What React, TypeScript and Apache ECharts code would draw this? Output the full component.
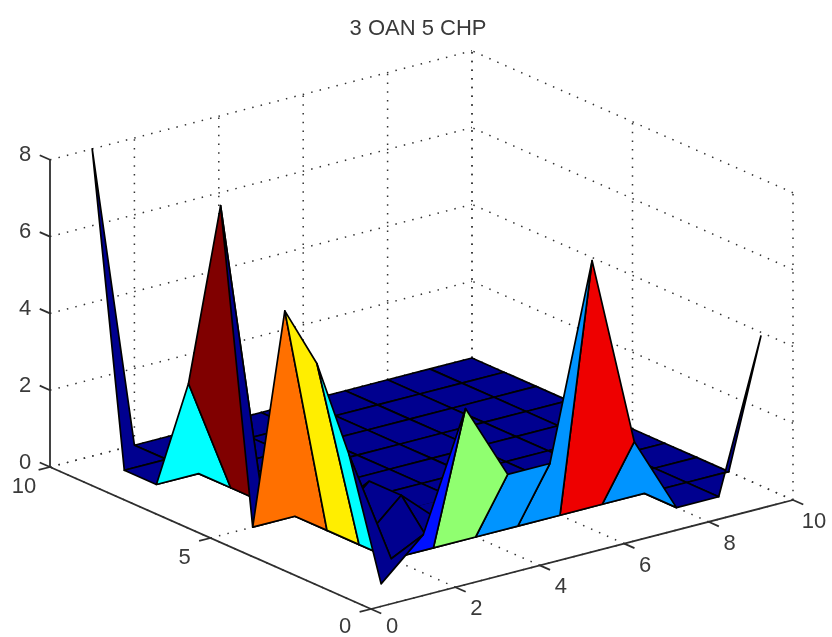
import React, { useEffect, useRef } from "react";
import * as echarts from "echarts";

const titleText = "3 OAN 5 CHP";
const xTicks = [0, 2, 4, 6, 8, 10];
const yTicks = [0, 5, 10];
const zTicks = [0, 2, 4, 6, 8];

// Z[y-1][x-1], x and y both run 1..10
const heights = [
  [0, 1, 4, 2, 2, 7, 2, 0, 0, 3.9],
  [3, 0, 0, 0, 0, 0, 0, 0, 0, 0],
  [5, 0, 1, 0, 0, 0, 0, 0, 0, 0],
  [6, 0, 1, 0, 0, 0, 0, 0, 0, 0],
  [0, 0, 0, 0, 0, 0, 0, 0, 0, 0],
  [8, 0, 0, 0, 0, 0, 0, 0, 0, 0],
  [3, 0, 0, 0, 0, 0, 0, 0, 0, 0],
  [0, 0, 0, 0, 0, 0, 0, 0, 0, 0],
  [0, 0, 0, 0, 0, 0, 0, 0, 0, 0],
  [8, 0, 0, 0, 0, 0, 0, 0, 0, 0],
];
// colour level of each face (its lowest-index corner)
const faceLevels = [
  [0, 1, 4, 2, 2, 7, 2, 0, 0],
  [3, 0, 0, 0, 0, 0, 0, 0, 0],
  [5, 0, 0, 0, 0, 0, 0, 0, 0],
  [6, 0, 0, 0, 0, 0, 0, 0, 0],
  [0, 0, 0, 0, 0, 0, 0, 0, 0],
  [8, 0, 0, 0, 0, 0, 0, 0, 0],
  [3, 0, 0, 0, 0, 0, 0, 0, 0],
  [0, 0, 0, 0, 0, 0, 0, 0, 0],
  [0, 0, 0, 0, 0, 0, 0, 0, 0],
];
// faces whose mesh edges do not show in the picture, as [x, y]
const facesWithoutEdges = [[3, 3], [3, 4], [4, 3]];
const jetColors = ["#00008f", "#0010ff", "#0094ff", "#00ffff", "#90ff70", "#ffee00", "#ff7000", "#ee0000", "#800000"];

// orthographic view of the 3-D box on the page
const view = { ox: 371, oy: 609, xx: 42.2, xy: -10.9, yx: -32.1, yy: -14.2, zy: -38.4 };
const project = (x: number, y: number, z: number) => [
  view.ox + x * view.xx + y * view.yx,
  view.oy + x * view.xy + y * view.yy + z * view.zy,
];

const ink = "#2e2e2e";
const labelFont = "22px 'Liberation Sans', Arial, sans-serif";

type Seg = [number, number, number, number, number, number];
const xMax = xTicks[xTicks.length - 1];
const yMax = yTicks[yTicks.length - 1];
const zMax = zTicks[zTicks.length - 1];

function dottedSegments(): Seg[] {
  const s: Seg[] = [];
  xTicks.forEach((x) => {
    s.push([x, 0, 0, x, yMax, 0]);
    if (x > 0) s.push([x, yMax, 0, x, yMax, zMax]);
  });
  yTicks.forEach((y) => {
    s.push([0, y, 0, xMax, y, 0]);
    s.push([xMax, y, 0, xMax, y, zMax]);
  });
  zTicks.forEach((z) => {
    s.push([0, yMax, z, xMax, yMax, z]);
    s.push([xMax, 0, z, xMax, yMax, z]);
  });
  return s;
}

function solidSegments(): Seg[] {
  const s: Seg[] = [
    [0, yMax, 0, 0, yMax, zMax],
    [0, 0, 0, 0, yMax, 0],
    [0, 0, 0, xMax, 0, 0],
  ];
  zTicks.forEach((z) => s.push([0, yMax, z, 0, yMax + 0.32, z]));
  yTicks.forEach((y) => s.push([0, y, 0, -0.27, y, 0]));
  xTicks.forEach((x) => s.push([x, 0, 0, x, -0.32, 0]));
  return s;
}

function faceRows() {
  const rows: number[][] = [];
  for (let j = heights.length - 2; j >= 0; j--) {
    for (let i = heights[j].length - 2; i >= 0; i--) {
      rows.push([i + 1, j + 1, heights[j][i], heights[j][i + 1], heights[j + 1][i + 1], heights[j + 1][i], faceLevels[j][i]]);
    }
  }
  return rows;
}

function labelRows() {
  const rows: any[] = [];
  zTicks.forEach((z) => {
    const p = project(0, yMax, z);
    rows.push([p[0] - 25, p[1] - 6, String(z)]);
  });
  yTicks.forEach((y) => {
    const p = project(0, y, 0);
    rows.push([p[0] - 26, Math.min(p[1] + 18, 625), String(y)]);
  });
  xTicks.forEach((x) => {
    const p = project(x, 0, 0);
    rows.push([p[0] + 21, Math.min(p[1] + 20.5, 625), String(x)]);
  });
  return rows;
}

const segmentItem = (style: any) => (_: any, api: any) => {
  const a = api.coord(project(api.value(0), api.value(1), api.value(2)));
  const b = api.coord(project(api.value(3), api.value(4), api.value(5)));
  return { type: "line", shape: { x1: a[0], y1: a[1], x2: b[0], y2: b[1] }, style };
};

export default function App() {
  const ref = useRef<HTMLDivElement>(null);
  useEffect(() => {
    const chart = echarts.init(ref.current!, undefined, { renderer: "svg" });
    chart.setOption({
      animation: false,
      backgroundColor: "#ffffff",
      title: {
        text: titleText,
        left: 413,
        top: 11,
        textAlign: "center",
        textStyle: { fontFamily: "'Liberation Sans', Arial, sans-serif", fontSize: 22, fontWeight: "normal", color: "#3a3a3a" },
      },
      grid: { left: 0, right: 0, top: 0, bottom: 0 },
      xAxis: { type: "value", min: 0, max: 832, show: false },
      yAxis: { type: "value", min: 0, max: 637, inverse: true, show: false },
      series: [
        {
          type: "custom",
          name: "grid",
          clip: false,
          silent: true,
          data: dottedSegments(),
          encode: { x: 0, y: 1 },
          renderItem: segmentItem({ stroke: "#333333", lineWidth: 1.5, lineDash: [1.5, 7.2], fill: "none" }),
        },
        {
          type: "custom",
          name: "axes",
          clip: false,
          silent: true,
          data: solidSegments(),
          encode: { x: 0, y: 1 },
          renderItem: segmentItem({ stroke: ink, lineWidth: 1.8, fill: "none" }),
        },
        {
          type: "custom",
          name: "surface",
          clip: false,
          silent: true,
          data: faceRows(),
          encode: { x: 0, y: 1 },
          renderItem: (_: any, api: any) => {
            const i = api.value(0);
            const j = api.value(1);
            const pts = [
              project(i, j, api.value(2)),
              project(i + 1, j, api.value(3)),
              project(i + 1, j + 1, api.value(4)),
              project(i, j + 1, api.value(5)),
            ].map((p) => api.coord(p));
            const fill = jetColors[api.value(6)];
            const plain = facesWithoutEdges.some((f) => f[0] === i && f[1] === j);
            return {
              type: "polygon",
              shape: { points: pts },
              style: { fill, stroke: plain ? fill : "#000000", lineWidth: 1.7, lineJoin: "round" },
            };
          },
        },
        {
          type: "custom",
          name: "labels",
          clip: false,
          silent: true,
          data: labelRows(),
          encode: { x: 0, y: 1 },
          dimensions: ["x", "y", { name: "t", type: "ordinal" }],
          renderItem: (params: any, api: any) => {
            const row = labelRows()[params.dataIndex];
            const p = api.coord([row[0], row[1]]);
            return {
              type: "text",
              style: { text: row[2], x: p[0], y: p[1], font: labelFont, fill: "#3a3a3a", align: "center", verticalAlign: "middle" },
            };
          },
        },
      ],
    });
    return () => chart.dispose();
  }, []);
  return <div ref={ref} style={{ position: "absolute", left: 0, top: 0, width: 832, height: 637, filter: "blur(0.4px)" }} />;
}
